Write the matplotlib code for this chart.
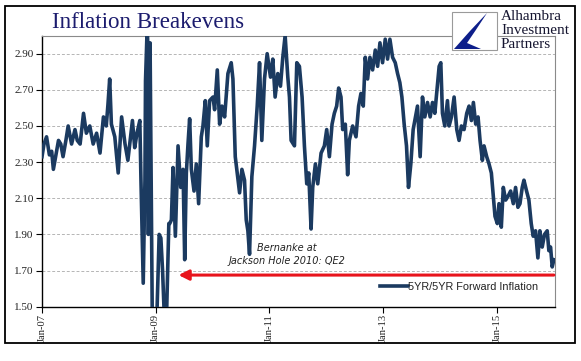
import matplotlib
matplotlib.use("Agg")
import matplotlib.pyplot as plt
from matplotlib.path import Path
from matplotlib.patches import PathPatch, Rectangle

# ---- data (decimal year, 5YR/5YR forward inflation %) ----
years = [
    2007.00, 2007.035, 2007.08, 2007.13, 2007.17, 2007.20, 2007.25, 2007.29, 2007.33, 2007.37,
    2007.42, 2007.46, 2007.52, 2007.58, 2007.62, 2007.67, 2007.73, 2007.78, 2007.84, 2007.90,
    2007.96, 2008.02, 2008.08, 2008.13, 2008.16, 2008.19, 2008.22, 2008.28, 2008.34, 2008.40,
    2008.46, 2008.51, 2008.59, 2008.63, 2008.67, 2008.72, 2008.74, 2008.78, 2008.81, 2008.82,
    2008.85, 2008.86, 2008.87, 2008.90, 2008.94, 2008.98, 2009.02, 2009.06, 2009.09, 2009.12,
    2009.15, 2009.19, 2009.23,
    2009.246, 2009.275, 2009.304, 2009.345, 2009.392, 2009.439, 2009.480, 2009.509, 2009.538, 2009.567,
    2009.596, 2009.626, 2009.673, 2009.713, 2009.754, 2009.801, 2009.830, 2009.871, 2009.906, 2009.947,
    2010.006, 2010.035, 2010.082, 2010.123, 2010.164, 2010.211, 2010.269, 2010.327, 2010.357, 2010.398,
    2010.433, 2010.474, 2010.515, 2010.561, 2010.591, 2010.620, 2010.649, 2010.690, 2010.737, 2010.784,
    2010.825, 2010.865, 2010.912, 2010.959, 2011.018, 2011.058, 2011.099, 2011.146, 2011.193, 2011.234,
    2011.275, 2011.322, 2011.351,
    2011.380, 2011.439, 2011.480, 2011.526, 2011.573, 2011.614, 2011.655, 2011.690, 2011.731, 2011.760,
    2011.807, 2011.848, 2011.907, 2011.965, 2012.006, 2012.053, 2012.100, 2012.140, 2012.181, 2012.216,
    2012.257, 2012.287, 2012.333, 2012.374, 2012.404, 2012.462, 2012.521, 2012.567, 2012.608, 2012.649,
    2012.684, 2012.725, 2012.766, 2012.813, 2012.860, 2012.901, 2012.942, 2012.988, 2013.035, 2013.076,
    2013.117, 2013.164, 2013.211, 2013.252, 2013.292, 2013.328, 2013.368, 2013.409, 2013.444, 2013.485,
    2013.526,
    2013.602, 2013.649, 2013.690, 2013.731, 2013.778, 2013.825, 2013.866, 2013.907, 2013.942, 2013.983,
    2014.012, 2014.041, 2014.082, 2014.129, 2014.158, 2014.199, 2014.246, 2014.293, 2014.333, 2014.374,
    2014.421, 2014.468, 2014.509, 2014.550, 2014.585, 2014.626, 2014.667, 2014.702, 2014.743, 2014.772,
    2014.819, 2014.860, 2014.901, 2014.936, 2014.965, 2015.006, 2015.035, 2015.076, 2015.111, 2015.152,
    2015.193, 2015.240, 2015.287, 2015.327, 2015.368, 2015.404, 2015.444, 2015.474, 2015.520, 2015.561,
    2015.602, 2015.637, 2015.678, 2015.719, 2015.754, 2015.795, 2015.836, 2015.883, 2015.912, 2015.942,
    2015.971, 2016.000,
]
values = [
    2.33, 2.40, 2.44, 2.34, 2.36, 2.26, 2.35, 2.42, 2.40, 2.33,
    2.42, 2.50, 2.40, 2.48, 2.42, 2.40, 2.57, 2.46, 2.50, 2.40,
    2.46, 2.35, 2.55, 2.50, 2.62, 2.76, 2.51, 2.44, 2.24, 2.55,
    2.40, 2.31, 2.53, 2.38, 2.46, 2.53, 2.20, 1.63, 2.20, 2.75,
    3.05, 2.95, 1.90, 2.96, 1.40, 1.40, 1.45, 1.90, 1.88, 1.70,
    1.45, 1.45, 1.96,
    1.96, 1.98, 2.27, 1.89, 2.39, 2.16, 2.26, 1.76, 2.24, 2.40,
    2.54, 2.26, 2.14, 2.29, 2.07, 2.44, 2.50, 2.64, 2.39, 2.64,
    2.66, 2.59, 2.81, 2.51, 2.61, 2.55, 2.79, 2.85, 2.76, 2.33,
    2.24, 2.13, 2.26, 2.20, 1.98, 1.92, 1.79, 2.22, 2.39, 2.61,
    2.85, 2.42, 2.76, 2.90, 2.77, 2.87, 2.66, 2.79, 2.72, 2.88,
    3.00, 2.77, 2.66,
    2.42, 2.39, 2.85, 2.83, 2.66, 2.39, 2.18, 2.24, 1.93, 2.16,
    2.29, 2.18, 2.35, 2.39, 2.48, 2.33, 2.51, 2.57, 2.61, 2.71,
    2.66, 2.48, 2.51, 2.23, 2.42, 2.50, 2.44, 2.61, 2.68, 2.61,
    2.88, 2.76, 2.88, 2.81, 2.92, 2.83, 2.96, 2.85, 2.98, 2.87,
    2.98, 2.88, 2.85, 2.79, 2.74, 2.66, 2.51, 2.39, 2.16, 2.29,
    2.48,
    2.61, 2.33, 2.66, 2.55, 2.63, 2.55, 2.63, 2.57, 2.69, 2.83,
    2.85, 2.57, 2.50, 2.64, 2.50, 2.55, 2.66, 2.48, 2.42, 2.50,
    2.48, 2.57, 2.61, 2.53, 2.63, 2.51, 2.55, 2.42, 2.31, 2.39,
    2.33, 2.29, 2.24, 2.11, 2.00, 1.96, 2.07, 1.94, 2.16, 2.09,
    2.11, 2.14, 2.07, 2.16, 2.05, 2.07, 2.16, 2.20, 2.14, 2.09,
    1.96, 1.89, 1.92, 1.77, 1.92, 1.83, 1.90, 1.92, 1.81, 1.83,
    1.72, 1.76,
]
series_label = "5YR/5YR Forward Inflation"
x_ticks = [2007, 2009, 2011, 2013, 2015]
x_tick_labels = ["Jan-07", "Jan-09", "Jan-11", "Jan-13", "Jan-15"]
y_ticks = [1.50, 1.70, 1.90, 2.10, 2.30, 2.50, 2.70, 2.90]
arrow_start = (2016.0, 1.675)
arrow_end = (2009.40, 1.675)
annot_text = "Bernanke at\nJackson Hole 2010: QE2"
annot_pos = (2011.31, 1.79)

W, H = 581, 361
fig = plt.figure(figsize=(W / 100, H / 100), dpi=100)
fig.patch.set_facecolor("white")

L, R, T, B = 42, 555, 35.6, 306.7
ax = fig.add_axes([L / W, 1 - B / H, (R - L) / W, (B - T) / H])

navy = "#1b3a60"
ax.plot(years, values, color=navy, lw=2.6, solid_joinstyle="round", label=series_label, zorder=3)

ax.set_xlim(2007.0, 2016.02)
ax.set_ylim(1.5, 3.0)
ax.set_yticks(y_ticks)
ax.set_yticklabels([f"{v:.2f}" for v in y_ticks])
ax.set_xticks(x_ticks)
ax.set_xticklabels(x_tick_labels, rotation=90)
for lbl in ax.get_yticklabels():
    lbl.set_family("Liberation Serif")
    lbl.set_fontsize(8)
    lbl.set_color("#222222")
for lbl in ax.get_xticklabels():
    lbl.set_family("Liberation Serif")
    lbl.set_fontsize(7.6)
    lbl.set_color("#222222")
ax.tick_params(axis="both", direction="out", length=4, width=0.8, color="black", pad=2)
ax.tick_params(axis="x", pad=1.5)

ax.yaxis.grid(True, color="#b5b5b5", linestyle=(0, (3, 2)), lw=0.7)
ax.set_axisbelow(True)
for side in ["left", "bottom"]:
    ax.spines[side].set_color("black")
    ax.spines[side].set_linewidth(1.0)
for side in ["top", "right"]:
    ax.spines[side].set_color("#8a8a8a")
    ax.spines[side].set_linewidth(0.8)

# red arrow
ax.annotate("", xy=arrow_end, xytext=arrow_start,
            arrowprops=dict(arrowstyle="-|>,head_length=0.6,head_width=0.3", color="#e8141c", lw=2.2,
                            shrinkA=0, shrinkB=0), zorder=4)
ax.text(annot_pos[0], annot_pos[1], annot_text, ha="center", va="center", style="italic",
        fontsize=7, family="DejaVu Sans", color="#222222", linespacing=1.35, zorder=5)

leg = ax.legend(loc="center right", bbox_to_anchor=(0.967, 0.073), frameon=False,
                prop={"family": "Liberation Sans", "size": 7.8}, handlelength=2.6,
                handletextpad=0.0, borderpad=0, borderaxespad=0)
for t in leg.get_texts():
    t.set_color("#222222")

# overlay in pixel coords for title, logo and outer frame
ov = fig.add_axes([0, 0, 1, 1], zorder=10)
ov.set_xlim(0, W)
ov.set_ylim(H, 0)
ov.axis("off")
ov.patch.set_alpha(0)
ov.add_patch(Rectangle((5, 6), 570, 337, fill=False, edgecolor="black", lw=1.3))
ov.text(52, 23, "Inflation Breakevens", family="Liberation Serif", fontsize=16.6,
        color="#1c1c6e", ha="left", va="center")

# logo
ov.add_patch(Rectangle((452, 12), 45, 38, facecolor="white", edgecolor="#9a9a9a", lw=0.8))
verts = [(454, 49), (470, 31), (487, 13), (474, 33), (467, 43), (481, 49), (454, 49)]
codes = [Path.MOVETO, Path.LINETO, Path.LINETO, Path.CURVE3, Path.CURVE3, Path.LINETO, Path.CLOSEPOLY]
ov.add_patch(PathPatch(Path(verts, codes), facecolor="#0d1e8a", edgecolor="none"))
for i, word in enumerate(["Alhambra", "Investment", "Partners"]):
    ov.text(501, 16 + i * 14.5, word, family="Liberation Serif", fontsize=11,
            color="#151530", ha="left", va="center")

fig.savefig("out.png", dpi=100)
